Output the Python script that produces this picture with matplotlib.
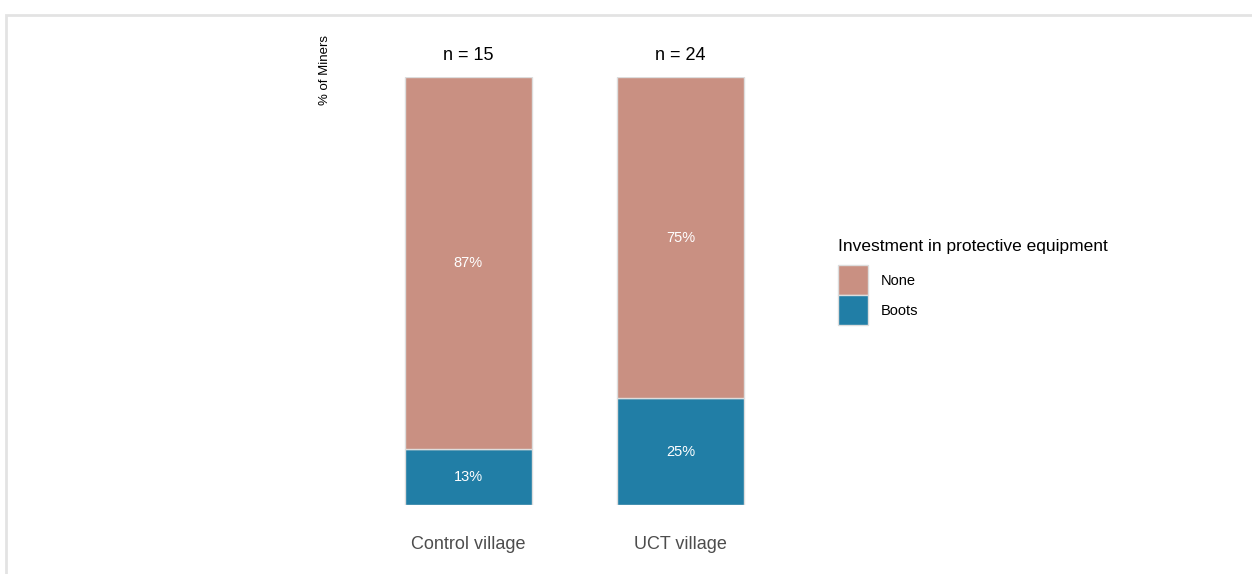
import matplotlib.pyplot as plt
from matplotlib.patches import Rectangle, Patch

plt.rcParams['font.family'] = ['Liberation Sans', 'DejaVu Sans']

# data
villages = ['Control village', 'UCT village']
n_obs = [15, 24]
boots = [0.13, 0.25]
none = [0.87, 0.75]
categories = ['None', 'Boots']
colors = {'None': '#c99082', 'Boots': '#217ea6'}

W, H = 1252, 574
fig = plt.figure(figsize=(W / 100, H / 100), dpi=100)
ax = fig.add_axes([341 / W, 1 - 505 / H, 467 / W, 428 / H])

x = [1, 2]
ax.bar(x, boots, width=0.6, color=colors['Boots'], edgecolor='#dddddd', linewidth=1)
ax.bar(x, none, width=0.6, bottom=boots, color=colors['None'], edgecolor='#dddddd', linewidth=1)

for xi, b, nn, n in zip(x, boots, none, n_obs):
    ax.text(xi, b / 2, f'{round(b * 100)}%', ha='center', va='center', color='white', fontsize=10.5)
    ax.text(xi, b + nn / 2, f'{round(nn * 100)}%', ha='center', va='center', color='white', fontsize=10.5)
    ax.text(xi, 1.03, f'n = {n}', ha='center', va='bottom', color='black', fontsize=13)

ax.set_xlim(0.4, 2.6)
ax.set_ylim(0, 1)
ax.set_xticks(x)
ax.set_xticklabels(villages, fontsize=13, color='#4d4d4d')
ax.tick_params(axis='x', length=0, pad=22)
ax.set_yticks([])
for s in ax.spines.values():
    s.set_visible(False)

fig.text(325 / W, 1 - 35 / H, '% of Miners', rotation=90, ha='center', va='top', fontsize=9.5)

handles = [Patch(facecolor=colors[c], edgecolor='#dddddd', label=c) for c in categories]
leg = fig.legend(handles=handles, title='Investment in protective equipment', loc='upper left',
                 bbox_to_anchor=(825 / W, 1 - 226 / H), frameon=False, fontsize=10.5,
                 title_fontsize=12.5, handlelength=2.05, handleheight=2.8, handletextpad=0.9,
                 labelspacing=0.0, alignment='left')
leg._legend_box.sep = 8

# panel border
fig.patches.append(Rectangle((6 / W, -0.1), 1.2, 1 - 15 / H + 0.1, transform=fig.transFigure,
                             fill=False, edgecolor='#e3e3e3', linewidth=2))

fig.savefig('out.png', dpi=100)
